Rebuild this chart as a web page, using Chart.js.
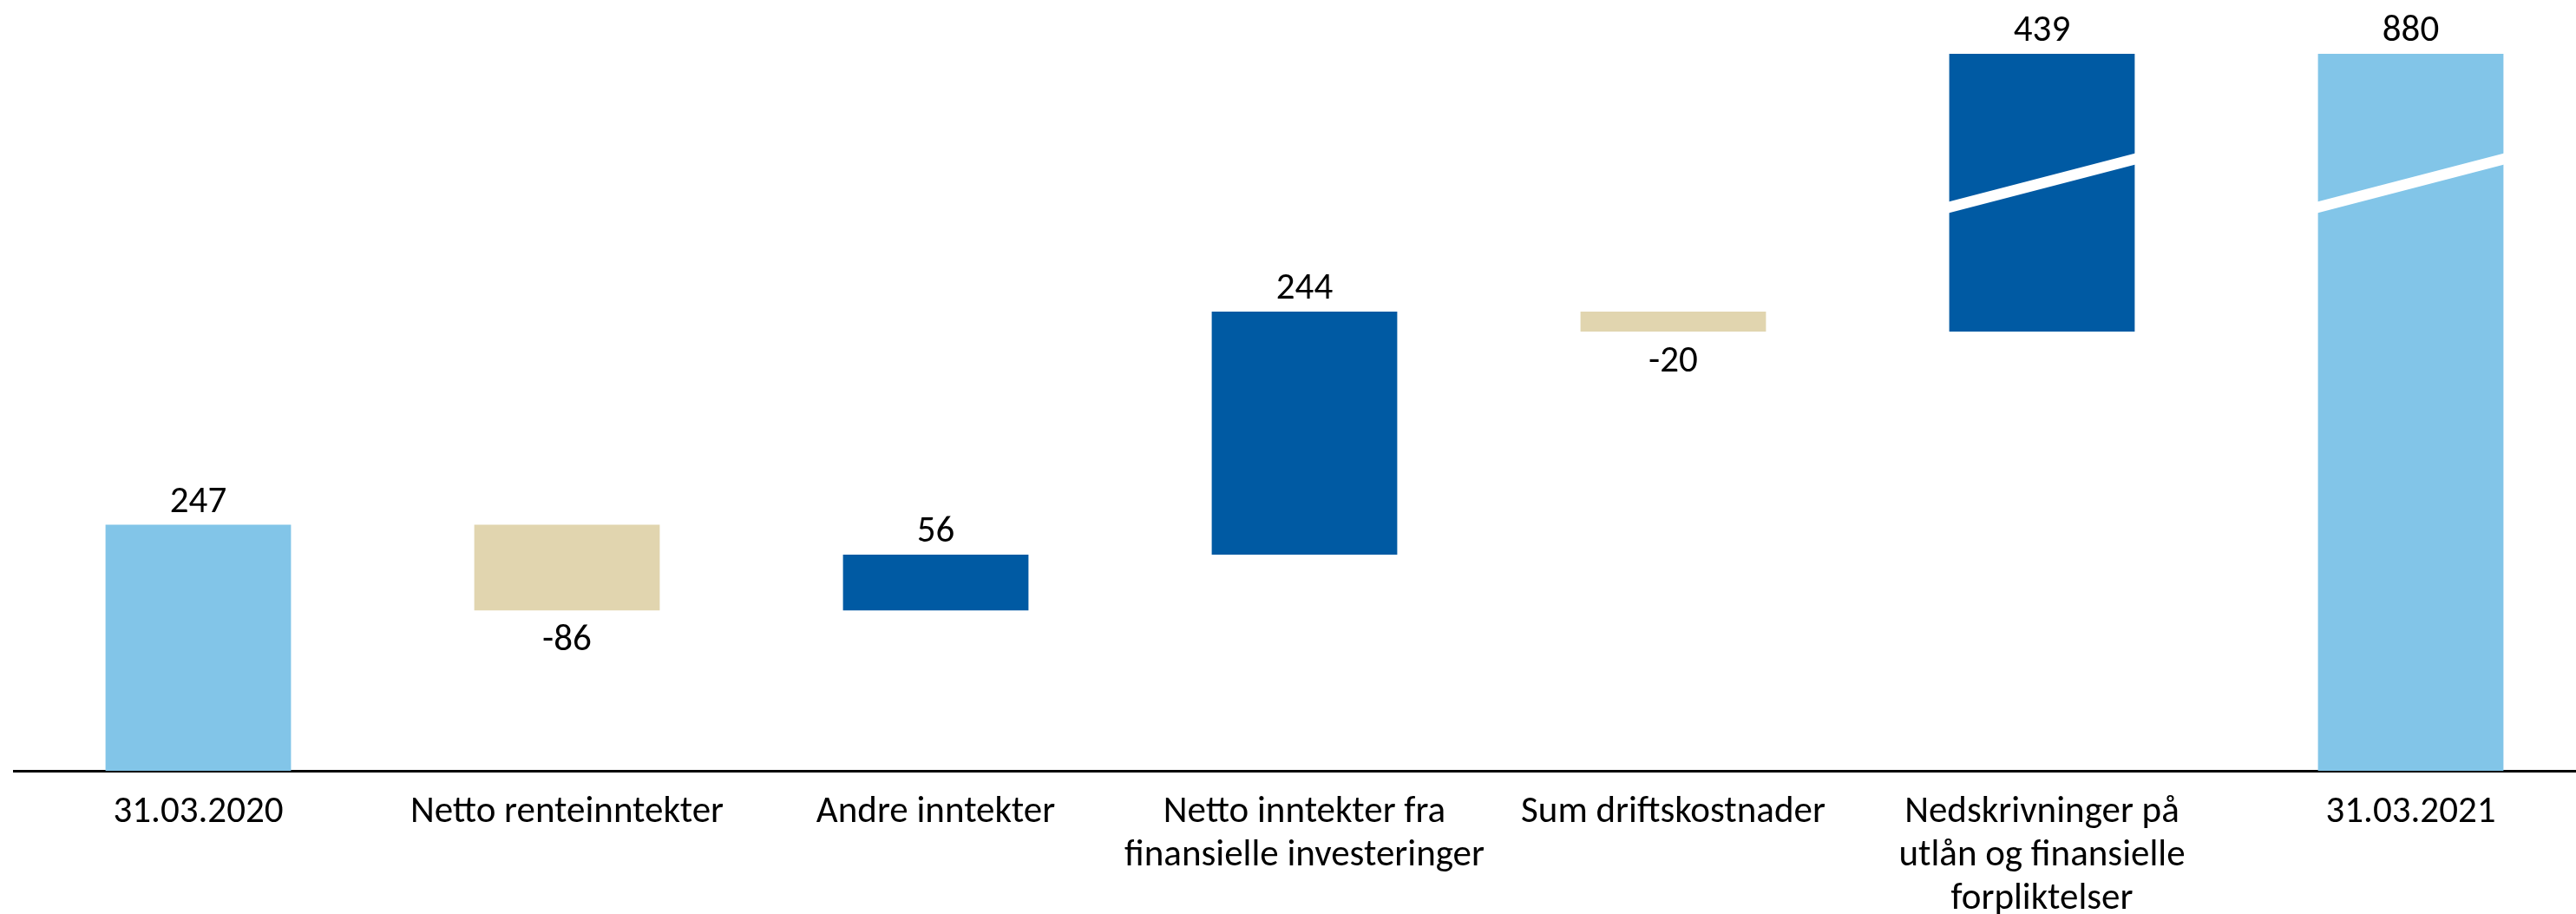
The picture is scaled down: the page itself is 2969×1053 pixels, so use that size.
<!DOCTYPE html>
<html>
<head>
<meta charset="utf-8">
<script src="https://cdn.jsdelivr.net/npm/chart.js@4.4.1/dist/chart.umd.min.js"></script>
<style>
  html, body { margin: 0; padding: 0; background: #fff; overflow: hidden; }
  .chart-box { width: 2991px; height: 1053px; }
</style>
</head>
<body>
<div class="chart-box"><canvas id="waterfall"></canvas></div>
<script>
const categories = [
  "31.03.2020",
  "Netto renteinntekter",
  "Andre inntekter",
  ["Netto inntekter fra", "finansielle investeringer"],
  "Sum driftskostnader",
  ["Nedskrivninger på", "utlån og finansielle", "forpliktelser"],
  "31.03.2021"
];
const changes = [247, -86, 56, 244, -20, 439, 880];
const isTotal = [true, false, false, false, false, false, true];

// y axis is cut: bars reaching above axisCap get a break mark
const axisMax = 774;
const axisCap = 720;
const breakAt = 590;

const colTotal = "#82C5E8";
const colUp = "#005AA3";
const colDown = "#E1D5AF";
const fontName = 'Carlito, "Liberation Sans", Arial, sans-serif';
const fontSize = 43;

let running = 0;
const realTop = [];
const ranges = changes.map((v, i) => {
  if (isTotal[i]) {
    running = v;
    realTop.push(v);
    return [0, Math.min(v, axisCap)];
  }
  const from = running;
  running += v;
  const hi = Math.max(from, running);
  realTop.push(hi);
  return [Math.min(from, running), Math.min(hi, axisCap)];
});
const colours = changes.map((v, i) => isTotal[i] ? colTotal : (v < 0 ? colDown : colUp));

const waterfallLabels = {
  id: "waterfallLabels",
  afterDatasetsDraw(chart) {
    const ctx = chart.ctx;
    const yScale = chart.scales.y;
    const meta = chart.getDatasetMeta(0);
    ctx.save();
    meta.data.forEach((bar, i) => {
      const top = Math.min(bar.y, bar.base);
      const bottom = Math.max(bar.y, bar.base);
      const half = bar.width / 2;
      if (realTop[i] > axisCap) {
        const mid = yScale.getPixelForValue(breakAt);
        ctx.fillStyle = "#fff";
        ctx.beginPath();
        ctx.moveTo(bar.x - half - 1, mid + 28 - 6.5);
        ctx.lineTo(bar.x + half + 1, mid - 28 - 6.5);
        ctx.lineTo(bar.x + half + 1, mid - 28 + 6.5);
        ctx.lineTo(bar.x - half - 1, mid + 28 + 6.5);
        ctx.closePath();
        ctx.fill();
      }
      ctx.fillStyle = "#000";
      ctx.font = fontSize + "px " + fontName;
      ctx.textAlign = "center";
      ctx.textBaseline = "alphabetic";
      const neg = changes[i] < 0;
      ctx.fillText(String(changes[i]), bar.x, neg ? bottom + 46 : top - 15);
    });
    ctx.restore();
  }
};

new Chart(document.getElementById("waterfall"), {
  type: "bar",
  data: {
    labels: categories,
    datasets: [{
      data: ranges,
      backgroundColor: colours,
      borderWidth: 0,
      categoryPercentage: 1,
      barPercentage: 0.503
    }]
  },
  options: {
    responsive: true,
    maintainAspectRatio: false,
    animation: false,
    devicePixelRatio: 1,
    layout: { padding: { left: 16, right: 0, top: 0, bottom: 0 } },
    plugins: {
      legend: { display: false },
      tooltip: { enabled: false }
    },
    scales: {
      x: {
        grid: { display: false, drawTicks: false },
        border: { display: true, color: "#000", width: 3 },
        ticks: {
          color: "#000",
          padding: 23,
          maxRotation: 0,
          autoSkip: false,
          font: { family: fontName, size: fontSize, lineHeight: "50px" }
        },
        afterFit(scale) { scale.height = 165; }
      },
      y: {
        display: false,
        min: 0,
        max: axisMax
      }
    }
  },
  plugins: [waterfallLabels]
});
</script>
</body>
</html>
